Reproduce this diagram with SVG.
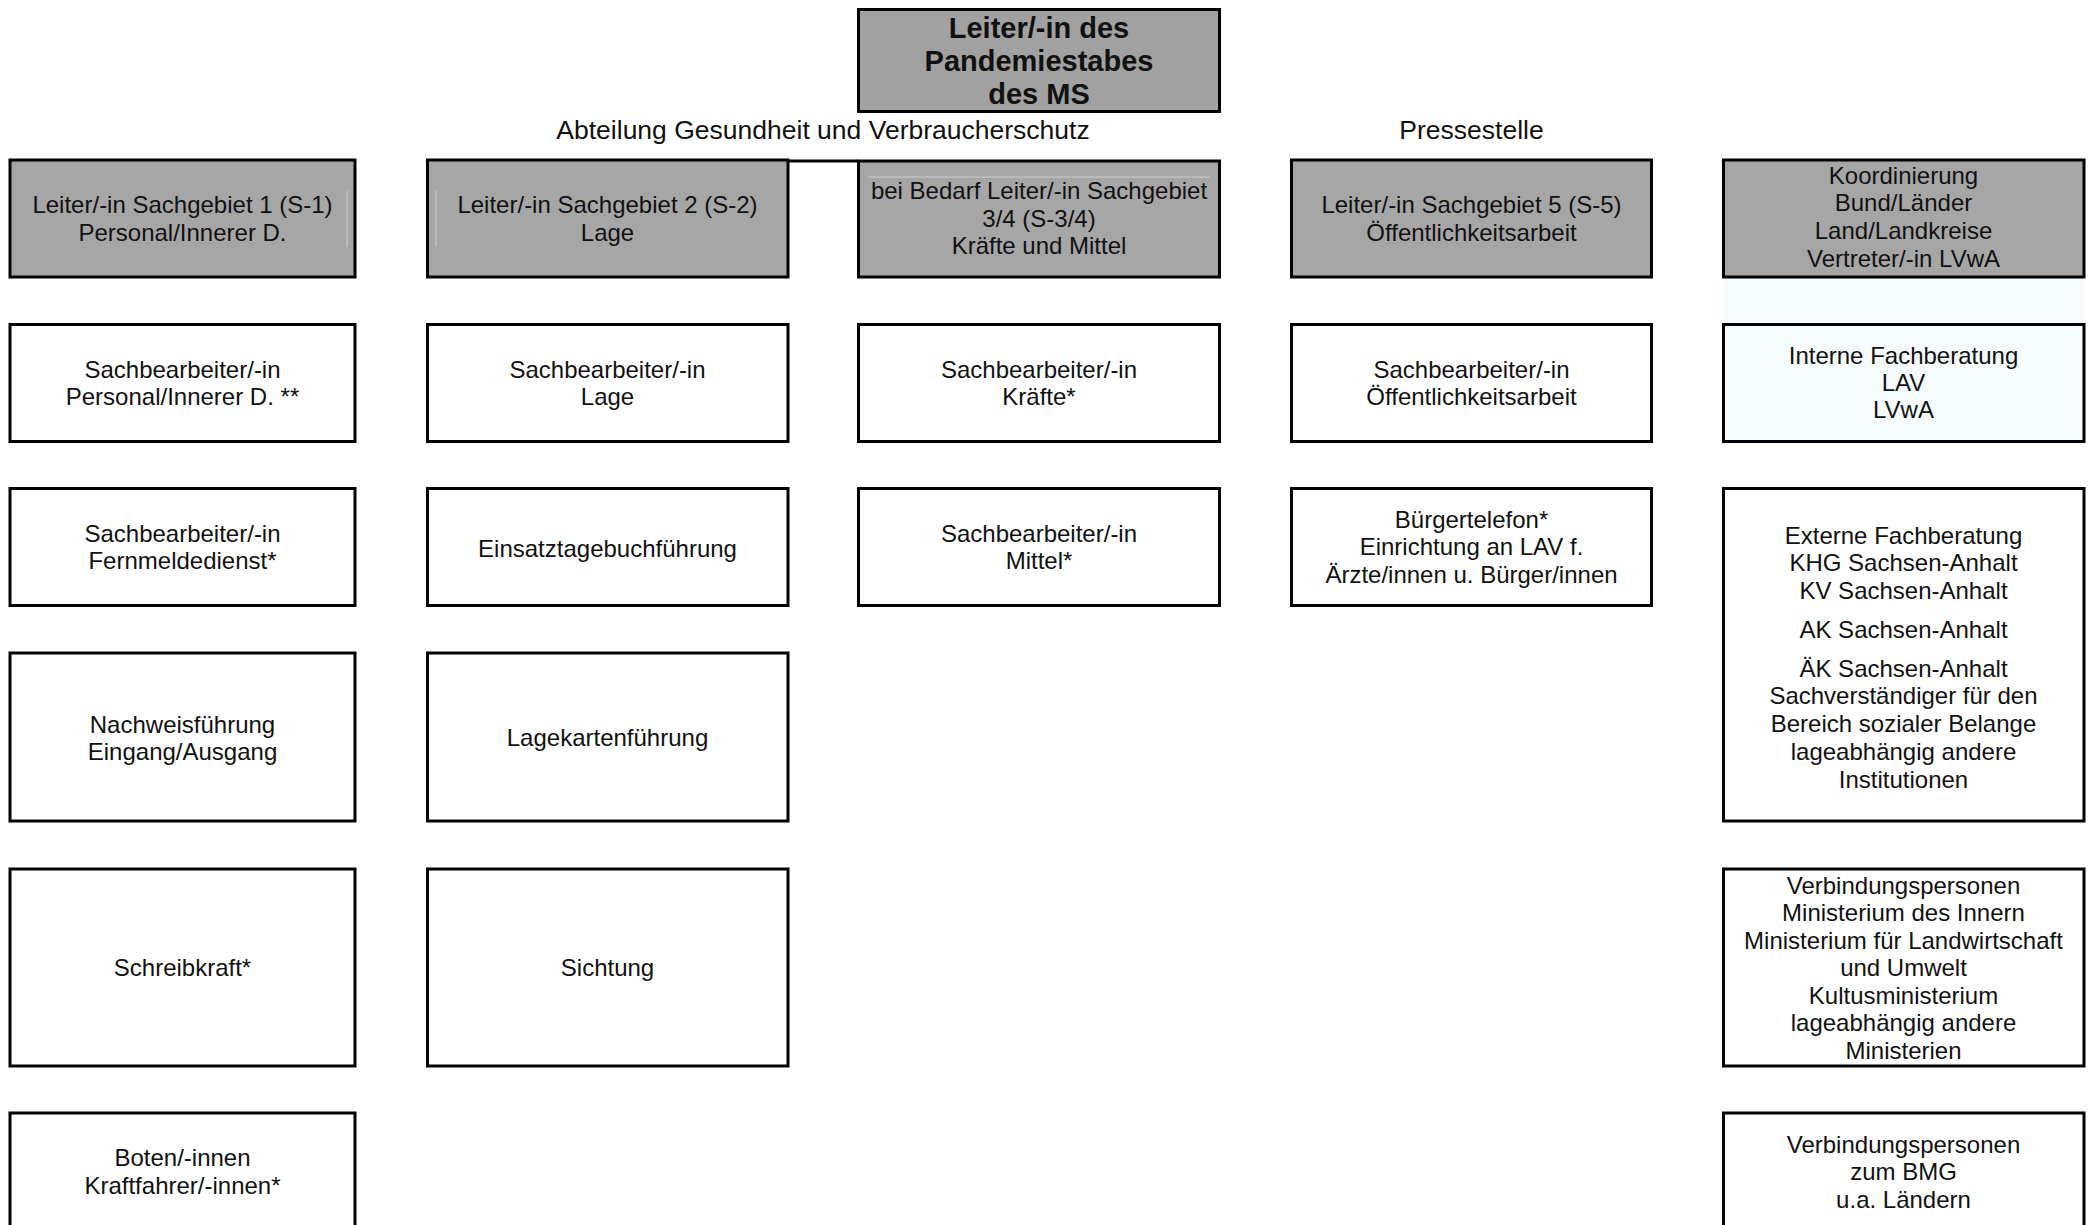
<svg xmlns="http://www.w3.org/2000/svg" width="2089" height="1225" viewBox="0 0 2089 1225">
<style>
.box{stroke:#000;stroke-width:3;fill:#fff}
.grey{fill:#a6a6a6}
.top{fill:#a0a1a0}
.cyan{fill:#f6fcfe}
.t{font-family:"Liberation Sans",Arial,sans-serif;font-size:24px;fill:#111;text-anchor:middle}
.h{font-family:"Liberation Sans",Arial,sans-serif;font-size:26.5px;fill:#111;text-anchor:middle}
.b{font-family:"Liberation Sans",Arial,sans-serif;font-size:29px;font-weight:bold;fill:#111;text-anchor:middle}
.faint{stroke:#cdcdcd;stroke-width:1;fill:none}
</style>
<rect width="2089" height="1225" fill="#fff"/>

<g id="labels">
<text class="h" x="823" y="138.5">Abteilung Gesundheit und Verbraucherschutz</text>
<text class="h" x="1471.5" y="139">Pressestelle</text>
</g>

<g id="connectors">
<line x1="788" y1="161" x2="858" y2="161" stroke="#000" stroke-width="3"/>
</g>

<g id="leiter">
<rect class="box top" x="858.5" y="9.5" width="361" height="102"/>
<text class="b" x="1039" y="37.5">Leiter/-in des</text>
<text class="b" x="1039" y="70.5">Pandemiestabes</text>
<text class="b" x="1039" y="103.5">des MS</text>
</g>

<!-- Column 1 -->
<g id="s1">
<rect class="box grey" x="10" y="160" width="345" height="117"/>
<line class="faint" x1="347" y1="191" x2="347" y2="247"/>
<text class="t" x="182.5" y="213.2">Leiter/-in Sachgebiet 1 (S-1)</text>
<text class="t" x="182.5" y="240.7">Personal/Innerer D.</text>
</g>
<g id="s1-personal">
<rect class="box" x="10" y="324.5" width="345" height="117"/>
<text class="t" x="182.5" y="378.2">Sachbearbeiter/-in</text>
<text class="t" x="182.5" y="405.2">Personal/Innerer D. **</text>
</g>
<g id="s1-fernmelde">
<rect class="box" x="10" y="488.5" width="345" height="117"/>
<text class="t" x="182.5" y="541.7">Sachbearbeiter/-in</text>
<text class="t" x="182.5" y="569.2">Fernmeldedienst*</text>
</g>
<g id="s1-nachweis">
<rect class="box" x="10" y="653" width="345" height="168"/>
<text class="t" x="182.5" y="732.5">Nachweisführung</text>
<text class="t" x="182.5" y="760">Eingang/Ausgang</text>
</g>
<g id="s1-schreib">
<rect class="box" x="10" y="869" width="345" height="197"/>
<text class="t" x="182.5" y="976">Schreibkraft*</text>
</g>
<g id="s1-boten">
<rect class="box" x="10" y="1113" width="345" height="117"/>
<text class="t" x="182.5" y="1166.2">Boten/-innen</text>
<text class="t" x="182.5" y="1193.7">Kraftfahrer/-innen*</text>
</g>

<!-- Column 2 -->
<g id="s2">
<rect class="box grey" x="427.5" y="160" width="360.5" height="117"/>
<line class="faint" x1="436" y1="191" x2="436" y2="247"/>
<text class="t" x="607.5" y="213.2">Leiter/-in Sachgebiet 2 (S-2)</text>
<text class="t" x="607.5" y="240.7">Lage</text>
</g>
<g id="s2-lage">
<rect class="box" x="427.5" y="324.5" width="360.5" height="117"/>
<text class="t" x="607.5" y="378.2">Sachbearbeiter/-in</text>
<text class="t" x="607.5" y="405.2">Lage</text>
</g>
<g id="s2-tagebuch">
<rect class="box" x="427.5" y="488.5" width="360.5" height="117"/>
<text class="t" x="607.5" y="556.5">Einsatztagebuchführung</text>
</g>
<g id="s2-lagekarte">
<rect class="box" x="427.5" y="653" width="360.5" height="168"/>
<text class="t" x="607.5" y="746">Lagekartenführung</text>
</g>
<g id="s2-sichtung">
<rect class="box" x="427.5" y="869" width="360.5" height="197"/>
<text class="t" x="607.5" y="976">Sichtung</text>
</g>

<!-- Column 3 -->
<g id="s34">
<rect class="box grey" x="858.5" y="161" width="361" height="116"/>
<line class="faint" x1="868" y1="177" x2="1210" y2="177"/>
<text class="t" x="1039" y="199.3">bei Bedarf Leiter/-in Sachgebiet</text>
<text class="t" x="1039" y="226.8">3/4 (S-3/4)</text>
<text class="t" x="1039" y="254.3">Kräfte und Mittel</text>
</g>
<g id="s34-kraefte">
<rect class="box" x="858.5" y="324.5" width="361" height="117"/>
<text class="t" x="1039" y="378.2">Sachbearbeiter/-in</text>
<text class="t" x="1039" y="405.2">Kräfte*</text>
</g>
<g id="s34-mittel">
<rect class="box" x="858.5" y="488.5" width="361" height="117"/>
<text class="t" x="1039" y="541.7">Sachbearbeiter/-in</text>
<text class="t" x="1039" y="569.2">Mittel*</text>
</g>

<!-- Column 4 -->
<g id="s5">
<rect class="box grey" x="1291.5" y="160" width="360" height="117"/>
<text class="t" x="1471.5" y="213.2">Leiter/-in Sachgebiet 5 (S-5)</text>
<text class="t" x="1471.5" y="240.7">Öffentlichkeitsarbeit</text>
</g>
<g id="s5-oeffentlich">
<rect class="box" x="1291.5" y="324.5" width="360" height="117"/>
<text class="t" x="1471.5" y="378.2">Sachbearbeiter/-in</text>
<text class="t" x="1471.5" y="405.2">Öffentlichkeitsarbeit</text>
</g>
<g id="s5-buergertelefon">
<rect class="box" x="1291.5" y="488.5" width="360" height="117"/>
<text class="t" x="1471.5" y="527.7">Bürgertelefon*</text>
<text class="t" x="1471.5" y="555.2">Einrichtung an LAV f.</text>
<text class="t" x="1471.5" y="582.7">Ärzte/innen u. Bürger/innen</text>
</g>

<!-- Column 5 -->
<rect class="cyan" x="1723" y="278" width="361" height="47"/>
<g id="koordinierung">
<rect class="box grey" x="1723.5" y="160" width="360.5" height="117"/>
<text class="t" x="1903.5" y="183.5">Koordinierung</text>
<text class="t" x="1903.5" y="211">Bund/Länder</text>
<text class="t" x="1903.5" y="238.5">Land/Landkreise</text>
<text class="t" x="1903.5" y="266.5">Vertreter/-in LVwA</text>
</g>
<g id="interne-fachberatung">
<rect class="box cyan" x="1723.5" y="324.5" width="360.5" height="117"/>
<text class="t" x="1903.5" y="364">Interne Fachberatung</text>
<text class="t" x="1903.5" y="391">LAV</text>
<text class="t" x="1903.5" y="418">LVwA</text>
</g>
<g id="externe-fachberatung">
<rect class="box" x="1723.5" y="488.5" width="360.5" height="332.5"/>
<text class="t" x="1903.5" y="543.5">Externe Fachberatung</text>
<text class="t" x="1903.5" y="571">KHG Sachsen-Anhalt</text>
<text class="t" x="1903.5" y="598.5">KV Sachsen-Anhalt</text>
<text class="t" x="1903.5" y="638">AK Sachsen-Anhalt</text>
<text class="t" x="1903.5" y="676.5">ÄK Sachsen-Anhalt</text>
<text class="t" x="1903.5" y="704.3">Sachverständiger für den</text>
<text class="t" x="1903.5" y="732.1">Bereich sozialer Belange</text>
<text class="t" x="1903.5" y="759.9">lageabhängig andere</text>
<text class="t" x="1903.5" y="787.7">Institutionen</text>
</g>
<g id="verbindung-ministerien">
<rect class="box" x="1723.5" y="869" width="360.5" height="197"/>
<text class="t" x="1903.5" y="893.7">Verbindungspersonen</text>
<text class="t" x="1903.5" y="921.2">Ministerium des Innern</text>
<text class="t" x="1903.5" y="948.7">Ministerium für Landwirtschaft</text>
<text class="t" x="1903.5" y="976.2">und Umwelt</text>
<text class="t" x="1903.5" y="1003.7">Kultusministerium</text>
<text class="t" x="1903.5" y="1031.2">lageabhängig andere</text>
<text class="t" x="1903.5" y="1058.7">Ministerien</text>
</g>
<g id="verbindung-bmg">
<rect class="box" x="1723.5" y="1113" width="360.5" height="117"/>
<text class="t" x="1903.5" y="1152.5">Verbindungspersonen</text>
<text class="t" x="1903.5" y="1180">zum BMG</text>
<text class="t" x="1903.5" y="1207.5">u.a. Ländern</text>
</g>
</svg>
